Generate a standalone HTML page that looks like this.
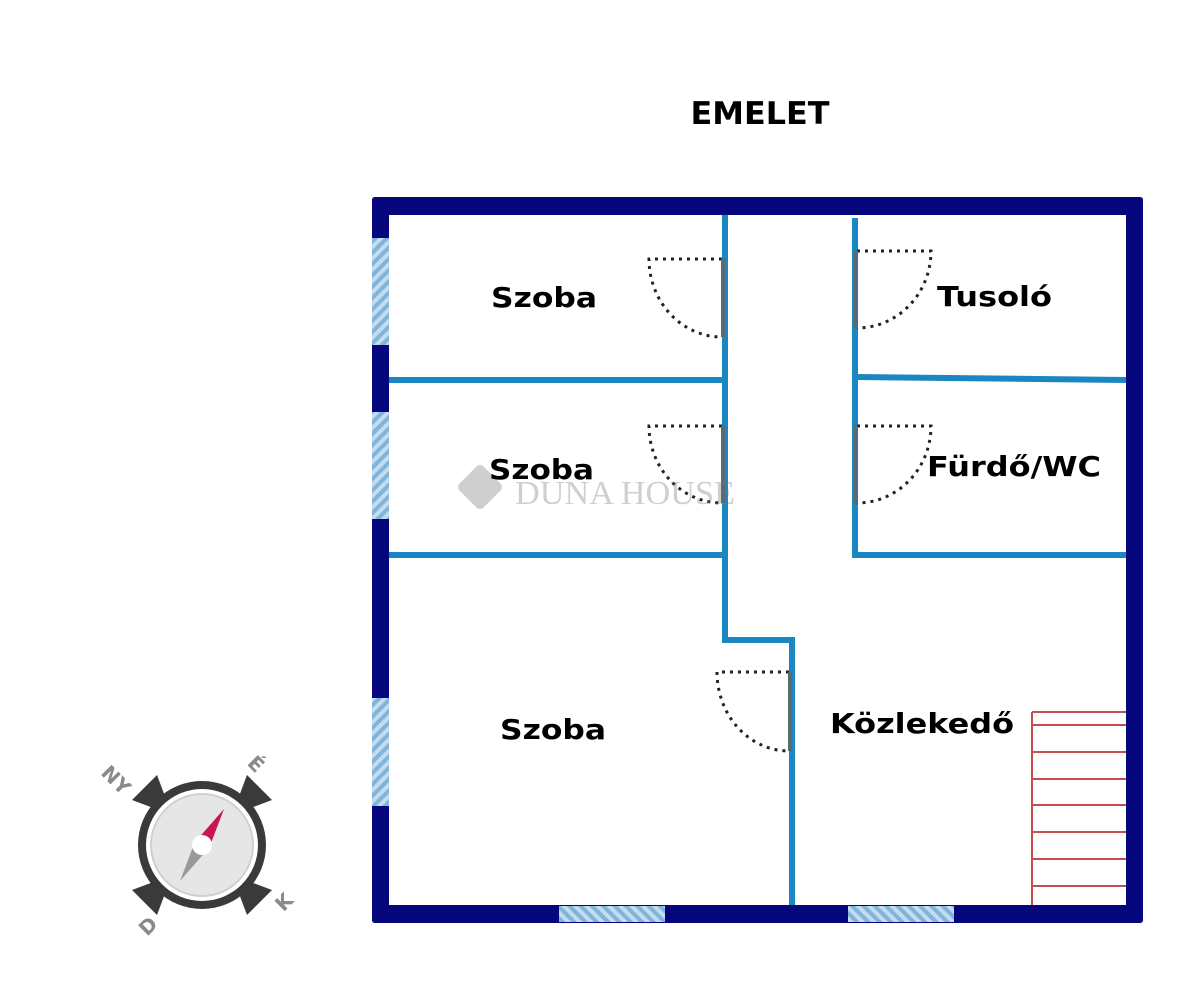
<!DOCTYPE html>
<html><head><meta charset="utf-8"><style>html,body{margin:0;padding:0;background:#fff}svg{display:block}</style></head>
<body>
<svg width="1200" height="986" viewBox="0 0 1200 986" xmlns="http://www.w3.org/2000/svg">
<defs>
<pattern id="hv" width="8" height="8" patternUnits="userSpaceOnUse" patternTransform="rotate(45)">
<rect width="8" height="8" fill="#c4dcee"/><rect width="4" height="8" fill="#7fb4dc"/>
</pattern>
<pattern id="hh" width="8" height="8" patternUnits="userSpaceOnUse" patternTransform="rotate(-45)">
<rect width="8" height="8" fill="#c4dcee"/><rect width="4" height="8" fill="#7fb4dc"/>
</pattern>
</defs>
<rect width="1200" height="986" fill="#fff"/>
<text x="760" y="124" font-family="DejaVu Sans, sans-serif" font-weight="bold" font-size="31" text-anchor="middle" textLength="139" lengthAdjust="spacingAndGlyphs">EMELET</text>

<g fill="#06067d">
<rect x="372" y="197" width="771" height="18" rx="3"/>
<rect x="372" y="197" width="17" height="726" rx="3"/>
<rect x="1126" y="197" width="17" height="726" rx="3"/>
<rect x="372" y="905" width="771" height="18" rx="3"/>
</g>
<rect x="372" y="238" width="17" height="107" fill="url(#hv)"/>
<rect x="372" y="412" width="17" height="107" fill="url(#hv)"/>
<rect x="372" y="698" width="17" height="108" fill="url(#hv)"/>
<rect x="559" y="906" width="106" height="16" fill="url(#hh)"/>
<rect x="848" y="906" width="106" height="16" fill="url(#hh)"/>

<g stroke="#1a86c2" stroke-width="6" fill="none" stroke-linejoin="miter">
<polyline points="725,215 725,640 792,640 792,905"/>
<line x1="389" y1="380" x2="725" y2="380"/>
<line x1="389" y1="555" x2="725" y2="555"/>
<polyline points="855,218 855,555 1126,555"/>
<line x1="855" y1="377" x2="1126" y2="380"/>
</g>

<g stroke="#222" stroke-width="3" fill="none" stroke-dasharray="3 5">
<path d="M722,259 H649 A73,78 0 0 0 722,337"/>
<path d="M722,426 H649 A73,77 0 0 0 722,503"/>
<path d="M789,672 H717 A72,79 0 0 0 789,751"/>
<path d="M857,251 H931 A74,77 0 0 1 857,328"/>
<path d="M857,426 H931 A74,77 0 0 1 857,503"/>
</g>
<g stroke="#5a6a72" stroke-width="4">
<line x1="723" y1="259" x2="723" y2="337"/>
<line x1="723" y1="426" x2="723" y2="503"/>
<line x1="790" y1="672" x2="790" y2="751"/>
<line x1="856" y1="251" x2="856" y2="328"/>
<line x1="856" y1="426" x2="856" y2="503"/>
</g>

<g stroke="#c0504d" stroke-width="2" fill="none">
<line x1="1032" y1="712" x2="1032" y2="905"/>
<line x1="1032" y1="712" x2="1126" y2="712"/>
<line x1="1032" y1="725" x2="1126" y2="725"/>
<line x1="1032" y1="752" x2="1126" y2="752"/>
<line x1="1032" y1="779" x2="1126" y2="779"/>
<line x1="1032" y1="805" x2="1126" y2="805"/>
<line x1="1032" y1="832" x2="1126" y2="832"/>
<line x1="1032" y1="859" x2="1126" y2="859"/>
<line x1="1032" y1="886" x2="1126" y2="886"/>
</g>

<g opacity="0.35">
<rect x="463" y="470" width="34" height="34" rx="5" fill="#777" transform="rotate(45 480 487)"/>
<text x="515" y="504" font-family="Liberation Serif, serif" font-size="34" fill="#777" textLength="220" lengthAdjust="spacingAndGlyphs">DUNA HOUSE</text>
</g>

<g font-family="DejaVu Sans, sans-serif" font-weight="bold" font-size="28" fill="#000">
<text x="491" y="307" textLength="106" lengthAdjust="spacingAndGlyphs">Szoba</text>
<text x="489" y="479" textLength="105" lengthAdjust="spacingAndGlyphs">Szoba</text>
<text x="500" y="739" textLength="106" lengthAdjust="spacingAndGlyphs">Szoba</text>
<text x="937" y="306" textLength="115" lengthAdjust="spacingAndGlyphs">Tusoló</text>
<text x="927" y="476" textLength="174" lengthAdjust="spacingAndGlyphs">Fürdő/WC</text>
<text x="830" y="733" textLength="184" lengthAdjust="spacingAndGlyphs">Közlekedő</text>
</g>

<g transform="translate(202,845)">
<g fill="#3a3a3a">
<polygon points="-70,-45 -45,-70 -30,-30"/>
<polygon points="70,-45 45,-70 30,-30"/>
<polygon points="-70,45 -45,70 -30,30"/>
<polygon points="70,45 45,70 30,30"/>
</g>
<circle r="64" fill="#3a3a3a"/>
<circle r="56" fill="#fff"/>
<circle r="51" fill="#e6e6e6" stroke="#d0d0d0" stroke-width="2"/>
<polygon points="22,-36 -6,-4 6,6" fill="#c8174f"/>
<polygon points="-22,36 6,4 -6,-6" fill="#999"/>
<circle r="10" fill="#fff"/>
<g font-family="DejaVu Sans, sans-serif" font-weight="bold" font-size="20" fill="#8a8a8a" text-anchor="middle">
<text x="-86" y="-58" transform="rotate(45 -86 -65)">NY</text>
<text x="54" y="-74" transform="rotate(45 54 -81)">É</text>
<text x="82" y="64" transform="rotate(-45 82 57)">K</text>
<text x="-54" y="88" transform="rotate(-45 -54 81)">D</text>
</g>
</g>
</svg>
</body></html>
